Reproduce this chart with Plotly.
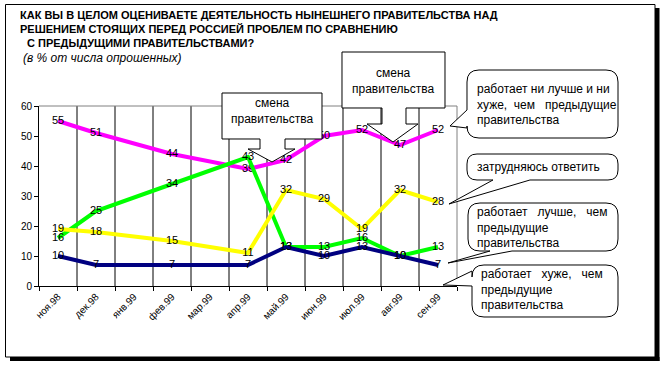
import plotly.graph_objects as go

# ---------------- data ----------------
categories = ["ноя.98", "дек.98", "янв.99", "фев.99", "мар.99", "апр.99",
              "май.99", "июн.99", "июл.99", "авг.99", "сен.99"]
same_vals = [55, 51, None, 44, None, 39, 42, 50, 52, 47, 52]     # ни лучше и ни хуже
better_vals = [16, 25, None, 34, None, 43, 13, 13, 16, 10, 13]   # лучше
hard_vals = [19, 18, None, 15, None, 11, 32, 29, 19, 32, 28]     # затрудняюсь
worse_vals = [10, 7, None, 7, None, 7, 13, 10, 13, 10, 7]        # хуже
y_ticks = [0, 10, 20, 30, 40, 50, 60]

title_lines = ["КАК ВЫ В ЦЕЛОМ ОЦЕНИВАЕТЕ ДЕЯТЕЛЬНОСТЬ НЫНЕШНЕГО ПРАВИТЕЛЬСТВА НАД",
               "РЕШЕНИЕМ СТОЯЩИХ ПЕРЕД РОССИЕЙ ПРОБЛЕМ ПО СРАВНЕНИЮ",
               "С ПРЕДЫДУЩИМИ ПРАВИТЕЛЬСТВАМИ?"]
subtitle = "(в % от числа опрошенных)"

FONT = "Liberation Sans, Arial, sans-serif"
W, H = 665, 366
L, R, T, B = 39, 457, 106, 286  # plot area in pixels


def px(x):
    return (x - L) / (R - L)


def py(y):
    return (B - y) / (B - T)


def path_from(points):
    return "M " + " L ".join(f"{px(x):.5f},{py(y):.5f}" for x, y in points) + " Z"


def bubble(x0, y0, x1, y1, r, tip, left=None, bottom=None):
    def P(x, y):
        return f"{px(x):.5f},{py(y):.5f}"
    d = f"M {P(x0 + r, y0)} L {P(x1 - r, y0)} Q {P(x1, y0)} {P(x1, y0 + r)}"
    d += f" L {P(x1, y1 - r)} Q {P(x1, y1)} {P(x1 - r, y1)}"
    if bottom:
        d += f" L {P(bottom[1], y1)} L {P(*tip)} L {P(bottom[0], y1)}"
    d += f" L {P(x0 + r, y1)} Q {P(x0, y1)} {P(x0, y1 - r)}"
    if left:
        d += f" L {P(x0, left[1])} L {P(*tip)} L {P(x0, left[0])}"
    d += f" L {P(x0, y0 + r)} Q {P(x0, y0)} {P(x0 + r, y0)} Z"
    return d


fig = go.Figure()

series = [
    (same_vals, "#FF00FF"),
    (better_vals, "#00FF00"),
    (hard_vals, "#FFFF00"),
    (worse_vals, "#000080"),
]
for vals, col in series:
    fig.add_trace(go.Scatter(
        x=categories, y=vals, mode="lines+text",
        text=[("" if v is None else str(v)) for v in vals],
        textposition="middle center",
        textfont=dict(family=FONT, size=11, color="black"),
        line=dict(color=col, width=4),
        connectgaps=True, hoverinfo="skip", cliponaxis=False,
    ))

shapes = []
# vertical gridlines at category boundaries
for i in range(len(categories) - 1):
    shapes.append(dict(type="line", xref="x", yref="paper", x0=i + 0.5, x1=i + 0.5,
                       y0=0, y1=1, layer="below", line=dict(color="black", width=1)))
# gray plot frame (top and right)
shapes.append(dict(type="line", xref="paper", yref="paper", x0=0, x1=1, y0=1, y1=1,
                   layer="below", line=dict(color="#808080", width=1)))
shapes.append(dict(type="line", xref="paper", yref="paper", x0=1, x1=1, y0=0, y1=1,
                   layer="below", line=dict(color="#808080", width=1)))

# "смена правительства" callouts
shapes.append(dict(type="path", xref="paper", yref="paper",
                   path=path_from([(222, 93), (322, 93), (322, 139), (285, 139), (285, 149),
                                   (295, 149), (272, 162), (248, 149), (260, 149), (260, 139),
                                   (222, 139)]),
                   fillcolor="white", line=dict(color="black", width=1)))
shapes.append(dict(type="path", xref="paper", yref="paper",
                   path=path_from([(342, 52), (445, 52), (445, 108), (406, 108), (406, 124),
                                   (418, 124), (393, 142), (367, 124), (382, 124), (382, 108),
                                   (342, 108)]),
                   fillcolor="white", line=dict(color="black", width=1)))

# rounded legend bubbles
shapes.append(dict(type="path", xref="paper", yref="paper",
                   path=bubble(467, 70, 618, 138, 12, (450, 126), left=(110, 128)),
                   fillcolor="white", line=dict(color="black", width=1)))
shapes.append(dict(type="path", xref="paper", yref="paper",
                   path=bubble(467, 154, 618, 180, 10, (449, 204), bottom=(493, 530)),
                   fillcolor="white", line=dict(color="black", width=1)))
shapes.append(dict(type="path", xref="paper", yref="paper",
                   path=bubble(468, 203, 618, 251, 12, (448, 263), bottom=(490, 512)),
                   fillcolor="white", line=dict(color="black", width=1)))
shapes.append(dict(type="path", xref="paper", yref="paper",
                   path=bubble(472, 265, 618, 317, 12, (443, 285), left=(271, 286)),
                   fillcolor="white", line=dict(color="black", width=1)))

# outer frame with shadow
shapes.append(dict(type="rect", xref="paper", yref="paper",
                   x0=px(5.5), x1=px(655), y0=py(4.5), y1=py(357),
                   line=dict(color="black", width=1), fillcolor="rgba(0,0,0,0)"))
shapes.append(dict(type="rect", xref="paper", yref="paper",
                   x0=px(655), x1=px(659.5), y0=py(8), y1=py(361),
                   line=dict(width=0), fillcolor="black"))
shapes.append(dict(type="rect", xref="paper", yref="paper",
                   x0=px(10), x1=px(659.5), y0=py(357), y1=py(361),
                   line=dict(width=0), fillcolor="black"))

annotations = []
title_pos = [(18, 15), (18, 29), (25, 43)]
for txt, (x, y) in zip(title_lines, title_pos):
    annotations.append(dict(text=f"<b>{txt}</b>", x=px(x), y=py(y), xref="paper", yref="paper",
                            xanchor="left", yanchor="middle", showarrow=False,
                            font=dict(family=FONT, size=11, color="black")))
annotations.append(dict(text=f"<i>{subtitle}</i>", x=px(21), y=py(58), xref="paper", yref="paper",
                        xanchor="left", yanchor="middle", showarrow=False,
                        font=dict(family=FONT, size=12, color="black")))

callout_font = dict(family=FONT, size=12, color="black")
annotations.append(dict(text="смена<br>правительства", x=px(272), y=py(111), xref="paper",
                        yref="paper", xanchor="center", yanchor="middle", showarrow=False,
                        font=callout_font, align="center"))
annotations.append(dict(text="смена<br>правительства", x=px(393.5), y=py(80.5), xref="paper",
                        yref="paper", xanchor="center", yanchor="middle", showarrow=False,
                        font=callout_font, align="center"))

NB = "\u00a0"
bubble_texts = [
    ("работает ни лучше и ни<br>хуже," + NB * 2 + "чем" + NB * 3 + "предыдущие<br>правительства", 475, 104),
    ("затрудняюсь ответить", 475, 167),
    ("работает" + NB * 3 + "лучше," + NB * 3 + "чем<br>предыдущие<br>правительства", 475, 227.5),
    ("работает" + NB * 3 + "хуже," + NB * 3 + "чем<br>предыдущие<br>правительства", 479, 289.5),
]
for txt, x, y in bubble_texts:
    annotations.append(dict(text=txt, x=px(x), y=py(y), xref="paper", yref="paper",
                            xanchor="left", yanchor="middle", showarrow=False,
                            font=callout_font, align="left"))

fig.update_layout(
    width=W, height=H,
    margin=dict(l=L, r=W - R, t=T, b=H - B, pad=0),
    paper_bgcolor="white", plot_bgcolor="white",
    showlegend=False,
    shapes=shapes, annotations=annotations,
    xaxis=dict(type="category", categoryorder="array", categoryarray=categories,
               range=[-0.5, 10.5], tickson="boundaries", ticks="outside", ticklen=4,
               tickcolor="black", showgrid=False,
               showline=True, linecolor="black", linewidth=1, tickangle=-45,
               tickfont=dict(family=FONT, size=10, color="black"), zeroline=False,
               fixedrange=True),
    yaxis=dict(range=[0, 60], tickvals=y_ticks, ticks="outside", ticklen=4,
               tickcolor="black", showline=True, linecolor="black", linewidth=1,
               showgrid=False, zeroline=False,
               tickfont=dict(family=FONT, size=10, color="black"), fixedrange=True),
    font=dict(family=FONT),
)

fig.write_html("out.html", config={"displayModeBar": False},
               post_script="document.body.style.margin='0';")
